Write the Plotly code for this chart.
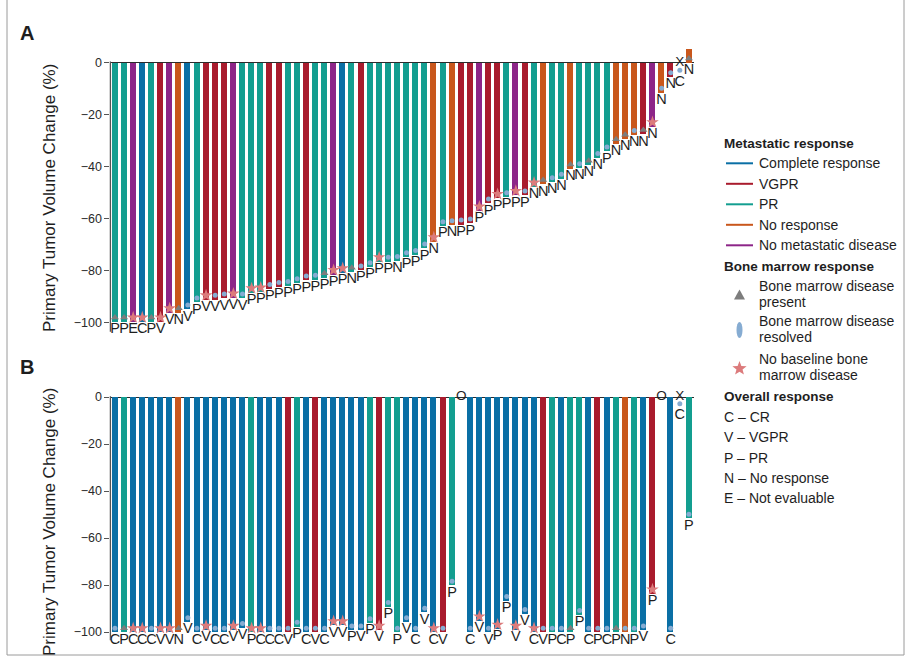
import math
import plotly.graph_objects as go

W, H = 910, 663
FONT = "Liberation Sans, Arial, Helvetica, sans-serif"

# ---------------- data ----------------
# Panel A: primary tumour volume change, sorted
a_change = [-99.5, -99.5, -99.5, -99.5, -99.5, -99.5, -96, -96, -94.7, -92,
            -91, -91, -90.5, -90.3, -90.5, -88.3, -88, -86.8, -86.1, -85.7,
            -84.6, -83.6, -83.3, -82.5, -81.3, -80.6, -80.4, -79.7, -78.5, -76.4,
            -76.4, -76.1, -74.6, -73.8, -71.3, -68.7, -62.7, -62.3, -62.1, -61.7,
            -56.9, -54, -52.1, -51.6, -50.9, -50.9, -47.7, -46.7, -45.8, -44.5,
            -40.7, -40.5, -39.3, -36.5, -34, -31, -29.3, -27.7, -27.5, -24.5,
            -11.5, -5.5, -4.5, 5.4]
a_metastatic = ["PR", "PR", "NM", "CR", "PR", "VGPR", "NM", "NR", "CR", "PR",
                "VGPR", "VGPR", "VGPR", "NM", "PR", "PR", "PR", "VGPR", "VGPR", "PR",
                "PR", "VGPR", "PR", "PR", "NM", "CR", "PR", "VGPR", "PR", "PR",
                "PR", "PR", "PR", "PR", "PR", "NR", "PR", "NR", "VGPR", "VGPR",
                "NM", "VGPR", "VGPR", "PR", "NM", "VGPR", "PR", "NR", "PR", "PR",
                "NR", "PR", "PR", "PR", "PR", "NR", "NR", "NR", "VGPR", "NM",
                "NR", "VGPR", "CR", "NR"]
a_marrow = ["T", "T", "S", "S", "T", "S", "S", "T", "D", "D",
            "S", "D", "D", "S", "D", "S", "S", "D", "D", "D",
            "D", "D", "D", "T", "S", "S", "T", "D", "D", "S",
            "D", "D", "D", "D", "D", "S", "D", "D", "D", "D",
            "S", "D", "S", "D", "S", "D", "S", "T", "D", "D",
            "T", "D", "T", "D", "D", "T", "T", "D", "T", "S",
            "D", "D", "D", "T"]
a_overall = ["P", "P", "E", "C", "P", "V", "V", "N", "V", "P",
             "V", "V", "V", "V", "V", "P", "P", "P", "P", "P",
             "P", "P", "P", "P", "P", "P", "N", "P", "P", "P",
             "P", "N", "P", "P", "P", "N", "P", "N", "P", "P",
             "P", "P", "P", "P", "P", "P", "N", "N", "N", "N",
             "N", "N", "N", "N", "P", "N", "N", "N", "N", "N",
             "N", "N", "C", "N"]
a_flag = [""] * 62 + ["X", ""]

# Panel B
b_change = [-100, -100, -100, -100, -100, -100, -100, -100, -95.5, -100,
            -99, -100, -100, -99, -98, -100, -100, -100, -100, -100,
            -97.5, -100, -100, -100, -97, -97, -99, -99, -96, -99,
            -89, -100, -95.5, -100, -91.5, -100, -100, -80, None, -100,
            -95, -100, -98.5, -86.5, -99, -92, -100, -100, -100, -100,
            -100, -92.5, -100, -100, -100, -100, -100, -100, -99, -83.5,
            None, -100, -4.5, -51.5]
b_metastatic = ["CR", "PR", "CR", "CR", "CR", "CR", "CR", "NR", "CR", "CR",
                "CR", "CR", "CR", "CR", "CR", "PR", "CR", "CR", "CR", "VGPR",
                "PR", "CR", "VGPR", "CR", "CR", "CR", "CR", "CR", "PR", "VGPR",
                "PR", "PR", "CR", "CR", "CR", "CR", "VGPR", "PR", "", "CR",
                "CR", "CR", "CR", "CR", "CR", "CR", "CR", "VGPR", "PR", "CR",
                "PR", "PR", "CR", "VGPR", "CR", "PR", "NR", "PR", "CR", "VGPR",
                "", "CR", "CR", "PR"]
b_marrow = ["D", "T", "S", "S", "D", "S", "S", "T", "D", "D",
            "S", "D", "D", "S", "D", "S", "S", "D", "D", "D",
            "D", "D", "D", "D", "S", "S", "D", "D", "D", "S",
            "D", "D", "D", "D", "D", "S", "D", "D", "", "D",
            "S", "D", "S", "D", "S", "D", "S", "D", "D", "D",
            "T", "D", "D", "D", "D", "T", "D", "D", "D", "S",
            "", "D", "D", "D"]
b_overall = ["C", "P", "C", "C", "C", "V", "V", "N", "V", "C",
             "V", "C", "C", "V", "V", "P", "C", "C", "C", "V",
             "P", "C", "V", "C", "V", "V", "P", "V", "P", "V",
             "P", "P", "V", "C", "V", "C", "V", "P", "", "C",
             "V", "V", "P", "P", "V", "V", "C", "V", "P", "C",
             "P", "P", "C", "P", "C", "P", "N", "P", "V", "P",
             "", "C", "C", "P"]
b_flag = [""] * 38 + ["O"] + [""] * 21 + ["O", "", "X", ""]

y_ticks = [0, -20, -40, -60, -80, -100]
y_ticktext = ["0", "\u221220", "\u221240", "\u221260", "\u221280", "\u2212100"]

meta_labels = [("CR", "Complete response"), ("VGPR", "VGPR"), ("PR", "PR"),
               ("NR", "No response"), ("NM", "No metastatic disease")]
overall_labels = ["C \u2013 CR", "V \u2013 VGPR", "P \u2013 PR",
                  "N \u2013 No response", "E \u2013 Not evaluable"]

# ---------------- styles ----------------
COLORS = {"CR": "#0a6fa5", "VGPR": "#a91b2d", "PR": "#139e90",
          "NR": "#c9571c", "NM": "#8d2588"}
MARK = {"T": dict(symbol="triangle-up", size=7, color="#7d7d7d"),
        "D": dict(symbol="circle", size=5, color="#86acd2"),
        "S": dict(symbol="star", size=9.5, color="#dc7b7c")}


def px_x(x):
    return x / W


def px_y(y):
    return 1 - y / H


fig = go.Figure()


def add_panel(change, meta, marrow, overall, flag, xa, ya, off, gap):
    n = len(change)
    idx = list(range(n))
    bar_y = [v if (f == "" and v is not None) else None for v, f in zip(change, flag)]
    fig.add_trace(go.Bar(
        x=idx, y=bar_y, width=0.66,
        marker=dict(color=[COLORS.get(m, "#ffffff") for m in meta], line_width=0),
        xaxis=xa, yaxis=ya, showlegend=False, hoverinfo="skip"))
    for code, st in MARK.items():
        xs = [i for i in idx if marrow[i] == code and change[i] is not None]
        ys = [min(change[i], 0) + off for i in xs]
        fig.add_trace(go.Scatter(
            x=xs, y=ys, mode="markers",
            marker=dict(symbol=st["symbol"], size=st["size"], color=st["color"], line_width=0),
            xaxis=xa, yaxis=ya, showlegend=False, hoverinfo="skip", cliponaxis=False))
    xs = [i for i in idx if overall[i] and change[i] is not None]
    fig.add_trace(go.Scatter(
        x=xs, y=[min(change[i], 0) - gap for i in xs], mode="text",
        text=[overall[i] for i in xs], textposition="bottom center",
        textfont=dict(family=FONT, size=14.5, color="#1e1e1e"),
        xaxis=xa, yaxis=ya, showlegend=False, hoverinfo="skip", cliponaxis=False))
    xs = [i for i in idx if flag[i]]
    fig.add_trace(go.Scatter(
        x=xs, y=[0] * len(xs), mode="text", text=[flag[i] for i in xs],
        textposition="middle center",
        textfont=dict(family=FONT, size=13.5, color="#1e1e1e"),
        xaxis=xa, yaxis=ya, showlegend=False, hoverinfo="skip", cliponaxis=False))


add_panel(a_change, a_metastatic, a_marrow, a_overall, a_flag, "x", "y", 1.5, 0.3)
add_panel(b_change, b_metastatic, b_marrow, b_overall, b_flag, "x2", "y2", 1.6, 0.3)

# plot geometry (pixels)
X_L, X_R = 110.4, 694.4
A_TOP, A_BOT = 41.5, 333.1
B_TOP, B_BOT = 387.6, 641.4

xcommon = dict(range=[-0.5, 63.6], showgrid=False, zeroline=False, showline=False,
               showticklabels=False, ticks="", fixedrange=True)
ycommon = dict(showgrid=False, showline=False, zeroline=True, zerolinecolor="#2b2b2b",
               zerolinewidth=1.4, ticks="outside", ticklen=5, tickwidth=1.2,
               tickcolor="#555", tickvals=y_ticks, ticktext=y_ticktext,
               tickfont=dict(family=FONT, size=12.5, color="#2a2a2a"), fixedrange=True)

fig.update_layout(
    width=W, height=H, margin=dict(l=0, r=0, t=0, b=0),
    paper_bgcolor="white", plot_bgcolor="rgba(0,0,0,0)", bargap=0,
    font=dict(family=FONT, color="#1e1e1e"),
    xaxis=dict(domain=[px_x(X_L), px_x(X_R)], anchor="y", **xcommon),
    yaxis=dict(domain=[px_y(A_BOT), px_y(A_TOP)], range=[-104, 8], anchor="x", **ycommon),
    xaxis2=dict(domain=[px_x(X_L), px_x(X_R)], anchor="y2", **xcommon),
    yaxis2=dict(domain=[px_y(B_BOT), px_y(B_TOP)], range=[-104, 4], anchor="x2", **ycommon),
)

shapes = []
# y-axis lines (from zero downwards)
for yref, xref in (("y", "x domain"), ("y2", "x2 domain")):
    shapes.append(dict(type="line", xref=xref, yref=yref, x0=0, x1=0, y0=0.3, y1=-103.5,
                       line=dict(color="#555", width=1.3)))
# frame
shapes.append(dict(type="rect", xref="paper", yref="paper", x0=px_x(7), x1=px_x(904),
                   y0=px_y(655), y1=px_y(-5), line=dict(color="#9a9a9a", width=1)))

annotations = []


def label(x, y, text, size=14, bold=False, xanchor="left", angle=0):
    annotations.append(dict(
        xref="paper", yref="paper", x=px_x(x), y=px_y(y),
        text=f"<b>{text}</b>" if bold else text,
        showarrow=False, xanchor=xanchor, yanchor="middle", textangle=angle,
        font=dict(family=FONT, size=size, color="#1e1e1e")))


def paper_path(points):
    parts = [f"{'M' if k == 0 else 'L'} {px_x(x):.5f},{px_y(y):.5f}" for k, (x, y) in enumerate(points)]
    return " ".join(parts) + " Z"


label(26.5, 33, "A", size=20, bold=True, xanchor="center")
label(26.5, 367, "B", size=20, bold=True, xanchor="center")
label(49, 198, "Primary Tumor Volume Change (%)", size=17, xanchor="center", angle=-90)
label(49, 522, "Primary Tumor Volume Change (%)", size=17, xanchor="center", angle=-90)

# legend: metastatic response
label(722, 143.5, "Metastatic response", size=13.5, bold=True)
for k, (code, text) in enumerate(meta_labels):
    y = 163.3 + k * 20.5
    shapes.append(dict(type="line", xref="paper", yref="paper", x0=px_x(726), x1=px_x(753),
                       y0=px_y(y), y1=px_y(y), line=dict(color=COLORS[code], width=2)))
    label(757, y, text, size=14)

# legend: bone marrow response
label(722, 266.7, "Bone marrow response", size=13.5, bold=True)
marrow_items = [("Bone marrow disease", "present", 295),
                ("Bone marrow disease", "resolved", 330),
                ("No baseline bone", "marrow disease", 368)]
for l1, l2, ys in marrow_items:
    label(757, ys - 9.5, l1, size=14)
    label(757, ys + 7, l2, size=14)

# legend symbols
cx = 739.5
shapes.append(dict(type="path", xref="paper", yref="paper",
                   path=paper_path([(cx - 5.5, 299.5), (cx + 5.5, 299.5), (cx, 289.5)]),
                   fillcolor="#7d7d7d", line_width=0))
shapes.append(dict(type="circle", xref="paper", yref="paper", x0=px_x(cx - 3), x1=px_x(cx + 3),
                   y0=px_y(338), y1=px_y(322), fillcolor="#86acd2", line_width=0))
star = []
for k in range(10):
    r = 7.5 if k % 2 == 0 else 3.2
    ang = -math.pi / 2 + k * math.pi / 5
    star.append((cx + r * math.cos(ang), 368.5 + r * math.sin(ang)))
shapes.append(dict(type="path", xref="paper", yref="paper", path=paper_path(star),
                   fillcolor="#dc7b7c", line_width=0))

# legend: overall response
label(722, 396.7, "Overall response", size=13.5, bold=True)
for k, text in enumerate(overall_labels):
    label(722, 416.7 + k * 20.4, text, size=14)

fig.update_layout(shapes=shapes, annotations=annotations)
fig.write_html("out.html")
